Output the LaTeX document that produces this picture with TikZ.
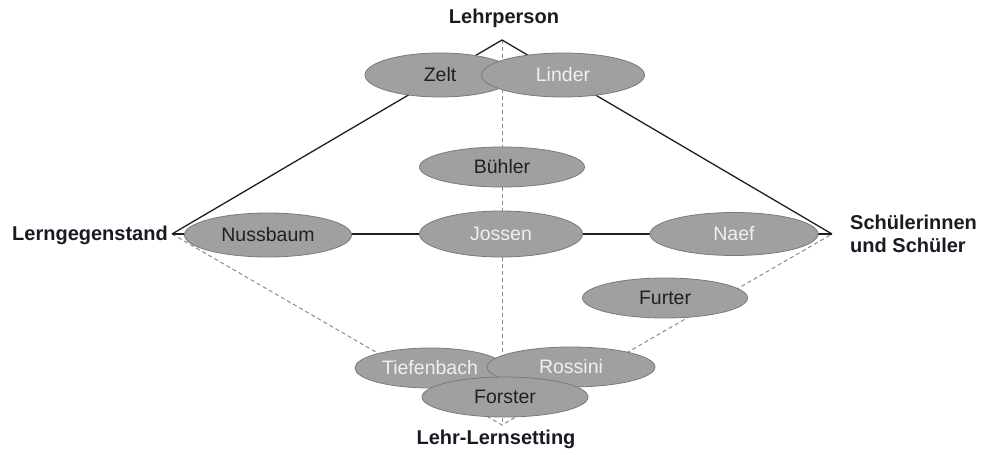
\documentclass[tikz,border=0pt]{standalone}
\usepackage{fontspec}
\setmainfont{Liberation Sans}
\usetikzlibrary{shapes.geometric}
\definecolor{ellfill}{HTML}{A0A0A0}
\definecolor{ellborder}{HTML}{7A7A7A}
\definecolor{darktext}{HTML}{202020}
\definecolor{lighttext}{HTML}{F0F0F0}
\definecolor{labeltext}{HTML}{1A1A24}
\definecolor{dashgray}{HTML}{8C8C8C}
\begin{document}
\begin{tikzpicture}[x=1pt,y=-1pt,
  pers/.style={ellipse, draw=ellborder, fill=ellfill, line width=0.8pt, inner sep=0pt,
    font=\fontsize{19.5}{23}\selectfont},
  dk/.style={pers, text=darktext},
  lt/.style={pers, text=lighttext},
  lab/.style={font=\bfseries\fontsize{20}{23}\selectfont, text=labeltext, inner sep=0pt},
  solidline/.style={line width=1.3pt, draw=black!88},
  dashline/.style={line width=1pt, draw=dashgray, dash pattern=on 4pt off 3pt}]
\useasboundingbox (0,0) rectangle (985,455);
\fill[white] (0,0) rectangle (985,455);

\coordinate (T) at (502,40);
\coordinate (L) at (172,234);
\coordinate (R) at (832,234);
\coordinate (B) at (502,425);

\node[lab] (lp) at (504,18) {Lehrperson};
\node[lab, anchor=east] (lg) at (168,235) {Lerngegenstand};
\node[lab, anchor=west, align=left] (su) at (850,234) {Schülerinnen\\und Schüler};
\node[lab] (ll) at (496,439) {Lehr-Lernsetting};

\draw[dashline] (T) -- (B);
\draw[dashline] (L) -- (B) -- (R);
\draw[solidline] (L) -- (T) -- (R);
\draw[solidline] (L) -- (R);

\node[dk, minimum width=150pt, minimum height=44pt] (zelt) at (440,75) {Zelt};
\node[lt, minimum width=163pt, minimum height=44pt] (linder) at (563,75) {Linder};
\node[dk, minimum width=165pt, minimum height=40pt] (buehler) at (502,167) {Bühler};
\node[lt, minimum width=163pt, minimum height=46pt] (jossen) at (501,234) {Jossen};
\node[dk, minimum width=167pt, minimum height=44pt] (nussbaum) at (268,235) {Nussbaum};
\node[lt, minimum width=168pt, minimum height=43pt] (naef) at (734,234) {Naef};
\node[dk, minimum width=165pt, minimum height=40pt] (furter) at (665,298) {Furter};
\node[lt, minimum width=150pt, minimum height=40pt] (tiefenbach) at (430,368) {Tiefenbach};
\node[lt, minimum width=168pt, minimum height=40pt] (rossini) at (571,367) {Rossini};
\node[dk, minimum width=166pt, minimum height=40pt] (forster) at (505,397) {Forster};
\end{tikzpicture}
\end{document}
